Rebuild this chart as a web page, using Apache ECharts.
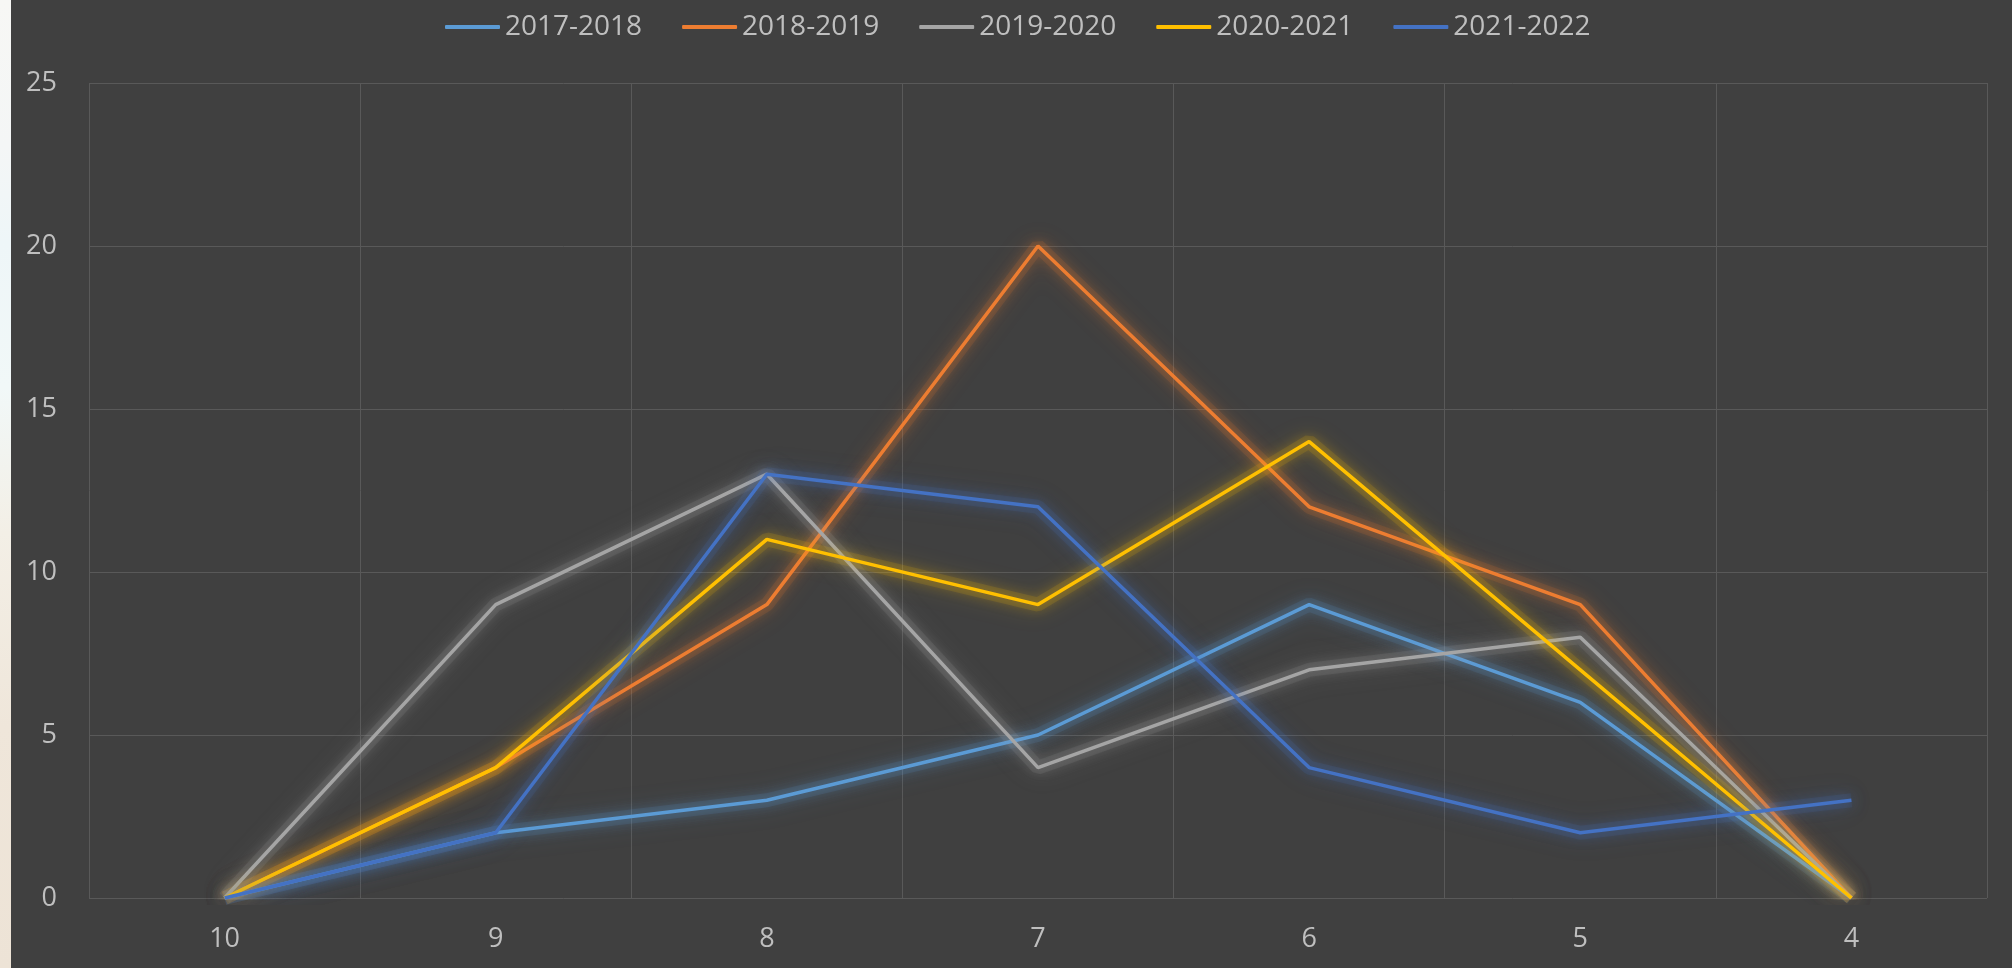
<!DOCTYPE html>
<html>
<head>
<meta charset="utf-8">
<script src="https://cdn.jsdelivr.net/npm/echarts@6/dist/echarts.min.js"></script>
<style>
html,body{margin:0;padding:0;width:2012px;height:968px;overflow:hidden;background:#404040;}
#strip{position:absolute;left:0;top:0;width:11px;height:968px;
background:linear-gradient(to bottom,#f7f7f5 0%,#f4f6f6 15%,#eef6f8 25%,#f1f8f8 40%,#f3efe6 55%,#efe6da 75%,#ede3d6 100%);}
#chart{position:absolute;left:11px;top:0;width:2001px;height:968px;}
</style>
</head>
<body>
<div id="strip"></div>
<div id="chart"></div>
<script>
const categories = ['10','9','8','7','6','5','4'];
const seriesNames = ['2017-2018','2018-2019','2019-2020','2020-2021','2021-2022'];
const s2017 = [0, 2, 3, 5, 9, 6, 0];
const s2018 = [0, 4, 9, 20, 12, 9, 0];
const s2019 = [0, 9, 13, 4, 7, 8, 0];
const s2020 = [0, 4, 11, 9, 14, 7, 0];
const s2021 = [0, 2, 13, 12, 4, 2, 3];
const colors = ['#5B9BD5','#ED7D31','#A5A5A5','#FFC000','#4472C4'];
const glows = ['rgba(91,155,213,0.9)','rgba(237,125,49,0.9)','rgba(165,165,165,0.9)','rgba(255,192,0,0.9)','rgba(68,114,196,0.9)'];
const allData = [s2017, s2018, s2019, s2020, s2021];

const chart = echarts.init(document.getElementById('chart'));
const font = 'Open Sans';
const glowSeries = seriesNames.map((n, i) => ({
  name: n + ' glow',
  type: 'line',
  data: allData[i],
  symbol: 'none',
  silent: true,
  z: 1,
  lineStyle: {width: 14, color: colors[i], opacity: 0.13, shadowBlur: 26, shadowColor: glows[i]}
}));
const mainSeries = seriesNames.map((n, i) => ({
  name: n,
  type: 'line',
  data: allData[i],
  symbol: 'none',
  z: 3,
  lineStyle: {width: 3.5, color: colors[i], shadowBlur: 14, shadowColor: glows[i]},
  itemStyle: {color: colors[i]}
}));
chart.setOption({
  backgroundColor: '#404040',
  animation: false,
  color: colors,
  legend: {
    left: 429, top: 8,
    itemWidth: 55, itemHeight: 4, itemGap: 40,
    icon: 'roundRect',
    textStyle: {color: '#bfbfbf', fontFamily: font, fontSize: 28},
    data: seriesNames
  },
  grid: {left: 78, right: 25, top: 83, bottom: 70},
  xAxis: {
    type: 'category',
    data: categories,
    boundaryGap: true,
    axisLine: {show: false},
    axisTick: {show: false},
    axisLabel: {color: '#bfbfbf', fontFamily: font, fontSize: 27, margin: 28},
    splitLine: {show: true, lineStyle: {color: '#595959', width: 1}}
  },
  yAxis: {
    type: 'value', min: 0, max: 25, interval: 5,
    axisLine: {show: false},
    axisTick: {show: false},
    axisLabel: {color: '#bfbfbf', fontFamily: font, fontSize: 27, margin: 32},
    splitLine: {show: true, lineStyle: {color: '#595959', width: 1}}
  },
  series: glowSeries.concat(mainSeries)
});
</script>
</body>
</html>
